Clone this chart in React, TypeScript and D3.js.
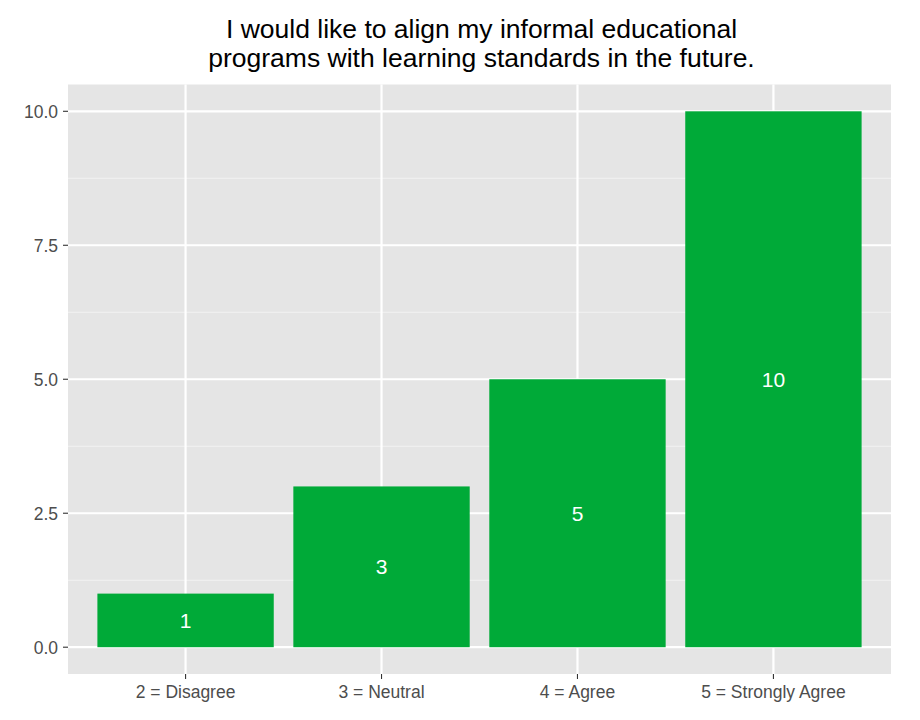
import * as d3 from "d3";
import { useEffect, useRef } from "react";

const categories = ["2 = Disagree", "3 = Neutral", "4 = Agree", "5 = Strongly Agree"];
const counts = [1, 3, 5, 10];
const yTicks = [0, 2.5, 5, 7.5, 10];
const yMinor = [1.25, 3.75, 6.25, 8.75];
const titleLines = [
    "I would like to align my informal educational",
    "programs with learning standards in the future.",
];

const App = () => {
    const svgRef = useRef<SVGSVGElement>(null);
    const width = 920;
    const height = 720;

    useEffect(() => {
        const svg = d3.select(svgRef.current);
        svg.selectAll("*").remove();

        const margin = { left: 68, right: 29, top: 84.5, bottom: 46 };
        const panelW = width - margin.left - margin.right;
        const panelH = height - margin.top - margin.bottom;

        // discrete x: centers at 1..4, expanded by 0.6
        const x = d3.scaleLinear().domain([0.4, 4.6]).range([0, panelW]);
        const y = d3.scaleLinear().domain([-0.5, 10.5]).range([panelH, 0]);

        const font = "Liberation Sans, Arial, sans-serif";

        // title
        svg.append("g")
            .attr("font-family", font)
            .attr("font-size", 26.5)
            .attr("text-anchor", "middle")
            .attr("fill", "#000")
            .selectAll("text")
            .data(titleLines)
            .join("text")
            .attr("x", margin.left + panelW / 2 + 2)
            .attr("y", (_d, i) => 38 + i * 29)
            .text(d => d);

        const g = svg.append("g")
            .attr("transform", `translate(${margin.left}, ${margin.top})`);

        g.append("rect")
            .attr("width", panelW)
            .attr("height", panelH)
            .attr("fill", "#e5e5e5");

        // minor grid
        g.append("g")
            .selectAll("line")
            .data(yMinor)
            .join("line")
            .attr("x1", 0)
            .attr("x2", panelW)
            .attr("y1", d => y(d))
            .attr("y2", d => y(d))
            .attr("stroke", "#f2f2f2")
            .attr("stroke-width", 1.1);

        // major grid
        g.append("g")
            .selectAll("line")
            .data(yTicks)
            .join("line")
            .attr("x1", 0)
            .attr("x2", panelW)
            .attr("y1", d => y(d))
            .attr("y2", d => y(d))
            .attr("stroke", "#fff")
            .attr("stroke-width", 2.2);

        g.append("g")
            .selectAll("line")
            .data(categories)
            .join("line")
            .attr("x1", (_d, i) => x(i + 1))
            .attr("x2", (_d, i) => x(i + 1))
            .attr("y1", 0)
            .attr("y2", panelH)
            .attr("stroke", "#fff")
            .attr("stroke-width", 2.2);

        // bars
        const bw = x(1.45) - x(0.55);
        g.append("g")
            .selectAll("rect")
            .data(counts)
            .join("rect")
            .attr("x", (_d, i) => x(i + 1) - bw / 2)
            .attr("width", bw)
            .attr("y", d => y(d))
            .attr("height", d => y(0) - y(d))
            .attr("fill", "#00AA38");

        // value labels
        g.append("g")
            .attr("font-family", font)
            .attr("font-size", 21)
            .attr("text-anchor", "middle")
            .attr("fill", "#fff")
            .selectAll("text")
            .data(counts)
            .join("text")
            .attr("x", (_d, i) => x(i + 1))
            .attr("y", d => y(d / 2))
            .attr("dy", "0.36em")
            .text(d => d);

        // y axis
        const ya = g.append("g");
        ya.selectAll("line")
            .data(yTicks)
            .join("line")
            .attr("x1", -5)
            .attr("x2", 0)
            .attr("y1", d => y(d))
            .attr("y2", d => y(d))
            .attr("stroke", "#333")
            .attr("stroke-width", 1.1);
        ya.selectAll("text")
            .data(yTicks)
            .join("text")
            .attr("x", -10)
            .attr("y", d => y(d))
            .attr("dy", "0.36em")
            .attr("text-anchor", "end")
            .attr("font-family", font)
            .attr("font-size", 17.5)
            .attr("fill", "#4d4d4d")
            .text(d => d3.format(".1f")(d));

        // x axis
        const xa = g.append("g").attr("transform", `translate(0, ${panelH})`);
        xa.selectAll("line")
            .data(categories)
            .join("line")
            .attr("x1", (_d, i) => x(i + 1))
            .attr("x2", (_d, i) => x(i + 1))
            .attr("y1", 0)
            .attr("y2", 5)
            .attr("stroke", "#333")
            .attr("stroke-width", 1.1);
        xa.selectAll("text")
            .data(categories)
            .join("text")
            .attr("x", (_d, i) => x(i + 1))
            .attr("y", 24)
            .attr("text-anchor", "middle")
            .attr("font-family", font)
            .attr("font-size", 17.5)
            .attr("fill", "#4d4d4d")
            .text(d => d);
    }, []);

    return (
        <svg ref={svgRef} width={width} height={height}
            style={{ position: "absolute", left: 0, top: 0, background: "#fff" }}></svg>
    );
};

export default App;
